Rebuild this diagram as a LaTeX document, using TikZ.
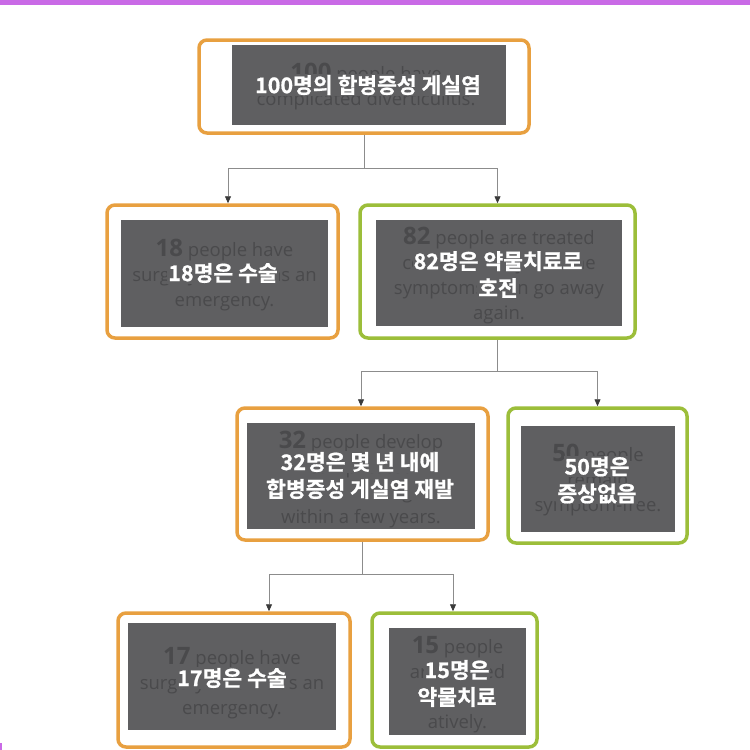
\documentclass[tikz,border=0pt]{standalone}
\usepackage{fontspec}
\usepackage{tikz}
\usetikzlibrary{arrows.meta,positioning,calc}
\newfontfamily\krfont{Noto Sans CJK KR Bold}[FakeBold=0.8]
\newfontfamily\enfont{Open Sans}
\definecolor{framorange}{HTML}{E8A040}
\definecolor{framgreen}{HTML}{9CBE3A}
\definecolor{boxgray}{HTML}{5F5F61}
\definecolor{ghosttext}{HTML}{4A4A4C}
\definecolor{linegray}{HTML}{8C8C8C}
\definecolor{tipgray}{HTML}{3A3A3A}
\definecolor{topbar}{HTML}{C96AE6}
\newcommand{\krline}[1]{{\setlength{\fboxsep}{1pt}\colorbox{boxgray}{#1}}}
\newcommand{\bignum}[1]{{\fontsize{24}{25}\selectfont\bfseries #1}}

\begin{document}
\begin{tikzpicture}[x=1pt,y=-1pt,
  boxframe/.style={draw=#1, line width=3.5pt, rounded corners=8pt, fill=white, inner sep=0pt},
  panel/.style={fill=boxgray, inner sep=0pt},
  ghost/.style={text=ghosttext, align=center, inner sep=0pt, font=\enfont\fontsize{18.5}{25}\selectfont},
  krtext/.style={text=white, align=center, inner sep=0pt, font=\krfont\fontsize{21.5}{27}\selectfont},
  conn/.style={draw=linegray, line width=0.8pt, -{Triangle[width=6pt,length=7pt,color=tipgray]}}]
  \useasboundingbox (0,0) rectangle (750,750);
  \fill[white] (0,0) rectangle (750,750);

  % purple strip on top
  \fill[topbar] (0,0) rectangle (750,5);
  \fill[topbar] (0,743) rectangle (2,750);

  % frames
  \node[boxframe=framorange, minimum width=330pt, minimum height=93pt] (f100) at (364,86.5) {};
  \node[boxframe=framorange, minimum width=231pt, minimum height=133pt] (f18) at (222.5,271.5) {};
  \node[boxframe=framgreen, minimum width=275pt, minimum height=133pt] (f82) at (497.5,271.5) {};
  \node[boxframe=framorange, minimum width=251pt, minimum height=132pt] (f32) at (362.5,474) {};
  \node[boxframe=framgreen, minimum width=179pt, minimum height=135pt] (f50) at (597.5,475.5) {};
  \node[boxframe=framorange, minimum width=232pt, minimum height=134pt] (f17) at (234,680) {};
  \node[boxframe=framgreen, minimum width=165pt, minimum height=134pt] (f15) at (454.5,680) {};

  % gray panels
  \node[panel, minimum width=274pt, minimum height=80pt] (p100) at (369,85) {};
  \node[panel, minimum width=207pt, minimum height=107pt] (p18) at (224.5,273.5) {};
  \node[panel, minimum width=246pt, minimum height=106pt] (p82) at (499,273) {};
  \node[panel, minimum width=228pt, minimum height=106pt] (p32) at (361,476) {};
  \node[panel, minimum width=154pt, minimum height=106pt] (p50) at (598,479) {};
  \node[panel, minimum width=208pt, minimum height=107pt] (p17) at (232,676.5) {};
  \node[panel, minimum width=137pt, minimum height=107pt] (p15) at (457.5,681.5) {};

  % faded english text
  \node[ghost] (e100) at (366,87) {\bignum{100} people have\\complicated diverticulitis.};
  \node[ghost] (e18) at (224.5,275) {\bignum{18} people have\\surgery -- some as an\\emergency.};
  \node[ghost] (e82) at (499,276) {\bignum{82} people are treated\\conservatively and the\\symptoms then go away\\again.};
  \node[ghost] (e32) at (361,479.5) {\bignum{32} people develop\\complicated\\diverticulitis again\\within a few years.};
  \node[ghost] (e50) at (598,480) {\bignum{50} people\\remain\\symptom-free.};
  \node[ghost] (e17) at (232,683) {\bignum{17} people have\\surgery -- some as an\\emergency.};
  \node[ghost] (e15) at (457.5,684.5) {\bignum{15} people\\are treated\\conserv-\\atively.};

  % korean labels
  \node[krtext] (k100) at (368,85) {\krline{100명의 합병증성 게실염}};
  \node[krtext] (k18) at (223,273) {\krline{18명은 수술}};
  \node[krtext] (k82) at (498,274.5) {\krline{82명은 약물치료로}\\\krline{호전}};
  \node[krtext] (k32) at (360,475.5) {\krline{32명은 몇 년 내에}\\\krline{합병증성 게실염 재발}};
  \node[krtext] (k50) at (597,480) {\krline{50명은}\\\krline{증상없음}};
  \node[krtext] (k17) at (232,678) {\krline{17명은 수술}};
  \node[krtext] (k15) at (457,683.5) {\krline{15명은}\\\krline{약물치료}};

  % connectors
  \draw[conn] (f100.south) -- ++(0,33.5) -| ([xshift=5.5pt]f18.north);
  \draw[conn] (f100.south) -- ++(0,33.5) -| (f82.north);
  \draw[conn] (f82.south) -- ++(0,32) -| ([xshift=-1.5pt]f32.north);
  \draw[conn] (f82.south) -- ++(0,32) -| (f50.north);
  \draw[conn] (f32.south) -- ++(0,33) -| ([xshift=35pt]f17.north);
  \draw[conn] (f32.south) -- ++(0,33) -| ([xshift=-1.5pt]f15.north);
\end{tikzpicture}
\end{document}
